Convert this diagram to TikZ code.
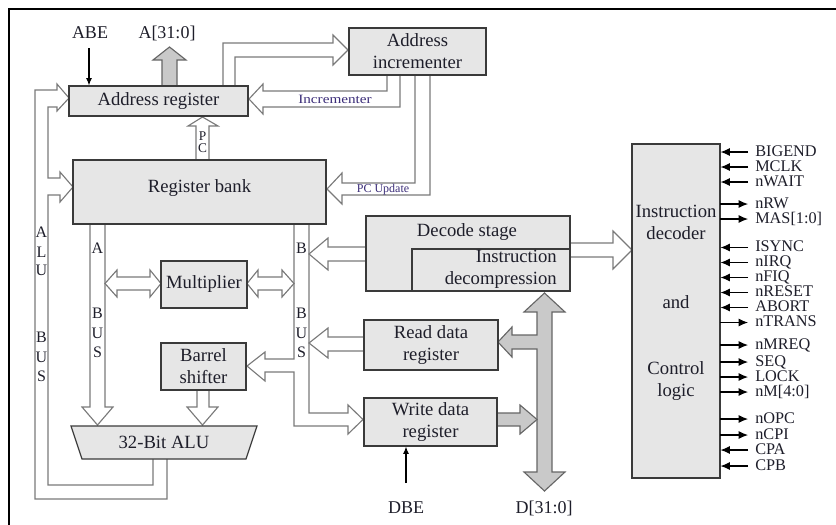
\documentclass[tikz,border=0pt]{standalone}
\usepackage{fontspec}
\setmainfont{Liberation Serif}
\newfontfamily\WideFam[FakeStretch=1.2]{Liberation Serif}
\usetikzlibrary{arrows.meta}
\definecolor{boxfill}{HTML}{E6E6E6}
\definecolor{boxdraw}{HTML}{3A3A3A}
\definecolor{holc}{HTML}{7A7A7A}
\definecolor{busfill}{HTML}{C9C9C9}
\definecolor{busdraw}{HTML}{666666}
\definecolor{txt}{HTML}{1E1E2A}
\definecolor{smalltxt}{HTML}{3A2C78}
\newcommand\BoxFont{\fontsize{14}{16.5}\selectfont}
\newcommand\LblFont{\fontsize{13.5}{15}\selectfont}
\newcommand\SigFont{\fontsize{12.2}{13}\selectfont}
\newcommand\BusFont{\fontsize{12}{13}\selectfont}
\newcommand\TinyFont{\WideFam\fontsize{9.5}{11}\selectfont}
\begin{document}
\begin{tikzpicture}[x=0.75pt,y=-0.75pt,
  box/.style={draw=boxdraw, fill=boxfill, line width=0.9pt, inner sep=0pt, align=center, font=\BoxFont, text=txt},
  holo/.style={draw=holc, line width=0.85pt, line join=miter},
  hol/.style={draw=holc, fill=white, line width=0.85pt, line join=miter},
  gbus/.style={draw=busdraw, fill=busfill, line width=0.85pt, line join=miter},
  lbl/.style={font=\LblFont, text=txt, inner sep=0pt},
  busl/.style={font=\BusFont, text=txt, inner sep=0pt},
  tiny/.style={font=\TinyFont, text=smalltxt, inner sep=0pt},
  sig/.style={font=\SigFont, text=txt, anchor=base west, inner sep=0pt, text height=8.1pt, text depth=0.3pt},
  sarrow/.style={line width=0.8pt, -{Latex[length=7pt,width=6pt]}},
  thin/.style={line width=0.8pt, -{Latex[length=5.5pt,width=4.5pt]}}
]
\useasboundingbox (0,0) rectangle (836,525);
% frame
\draw[line width=1.2pt] (9,525) -- (9,9) -- (836,9);

% ---------- hollow buses ----------
% Address register -> Address incrementer
\draw[holo] (223,86) -- (223,43) -- (333,43) -- (333,35) -- (348,50) -- (333,65) -- (333,57) -- (235,57) -- (235,86);
% Incrementer -> Address register
\draw[holo] (387,75) -- (387,91) -- (263,91) -- (263,84) -- (249,99) -- (263,114) -- (263,107) -- (400,107) -- (400,75);
% PC update
\draw[holo] (415,75) -- (415,183) -- (342,183) -- (342,173) -- (327,189) -- (342,204) -- (342,195) -- (430,195) -- (430,75);
% PC
\draw[holo] (196,160) -- (196,126) -- (188,126) -- (202.5,117) -- (218,126) -- (209,126) -- (209,160);
% ALU bus
\draw[holo] (167,459) -- (167,499) -- (35,499) -- (35,90) -- (57,90) -- (57,84) -- (69,98) -- (57,111) -- (57,107) -- (48,107) -- (48,178) -- (60,178) -- (60,172) -- (73,187) -- (60,202) -- (60,195) -- (48,195) -- (48,485) -- (153,485) -- (153,459);
% A bus
\draw[holo] (90,224) -- (90,407) -- (82,407) -- (97.5,425) -- (113,407) -- (105,407) -- (105,224);
% B bus
\draw[holo] (294,224) -- (294,359) -- (265,359) -- (265,352) -- (247,366) -- (265,381) -- (265,372) -- (294,372) -- (294,426) -- (348,426) -- (348,434) -- (363,419.5) -- (348,405) -- (348,413) -- (309,413) -- (309,224);
% Barrel shifter -> ALU
\draw[holo] (197,390) -- (197,407) -- (187,407) -- (202.5,425) -- (218,407) -- (209,407) -- (209,390);
% Multiplier double arrows
\draw[hol] (105,283.5) -- (117,270) -- (117,277) -- (150,277) -- (150,270) -- (161,283.5) -- (150,297) -- (150,290) -- (117,290) -- (117,297) -- cycle;
\draw[hol] (247,283.5) -- (258,270) -- (258,277) -- (282,277) -- (282,270) -- (294,283.5) -- (282,297) -- (282,290) -- (258,290) -- (258,297) -- cycle;
% Decode -> B bus
\draw[holo] (366,247) -- (328,247) -- (328,238) -- (309,254) -- (328,270) -- (328,261) -- (366,261);
% Read data -> B bus
\draw[holo] (364,337) -- (328,337) -- (328,328) -- (309,343) -- (328,358) -- (328,351) -- (364,351);
% Decode -> Instruction decoder
\draw[holo] (570,243) -- (613,243) -- (613,231) -- (632,250) -- (613,269) -- (613,257) -- (570,257);

% ---------- grey buses ----------
\draw[gbus] (162,86) -- (162,60) -- (153,60) -- (169.5,47) -- (186,60) -- (177,60) -- (177,86);
\draw[gbus] (544.5,293) -- (565,312) -- (552,312) -- (552,472) -- (565,472) -- (544.5,491) -- (524,472) -- (537,472) -- (537,349) -- (512,349) -- (512,357) -- (498,342) -- (512,327) -- (512,335) -- (537,335) -- (537,312) -- (524,312) -- cycle;
\draw[gbus] (497,413) -- (520,413) -- (520,405) -- (537,419.5) -- (520,434) -- (520,426) -- (497,426);

% ---------- boxes ----------
\node[box, minimum width={179*0.75pt}, minimum height={30*0.75pt}] (ar) at (158.5,101) {Address register};
\node[box, minimum width={137*0.75pt}, minimum height={47*0.75pt}] (ai) at (417.5,51.5) {Address\\incrementer};
\node[box, minimum width={253*0.75pt}, minimum height={64*0.75pt}, text height=14pt, text depth=14pt] (rb) at (199.5,192) {Register bank};
\node[box, minimum width={86*0.75pt}, minimum height={47*0.75pt}] (mul) at (204,284.5) {Multiplier};
\node[box, minimum width={85*0.75pt}, minimum height={47*0.75pt}] (bs) at (203.5,366.5) {Barrel\\shifter};
\draw[draw=boxdraw, fill=boxfill, line width=0.9pt] (71,426) -- (257,426) -- (246,459) -- (82,459) -- cycle;
\node[lbl, font=\BoxFont] (alu) at (164,442.5) {32-Bit ALU};
\node[box, minimum width={204*0.75pt}, minimum height={75*0.75pt}] (dec) at (468,253.5) {};
\node[lbl, font=\BoxFont] (dect) at (467,232) {Decode stage};
\node[box, minimum width={158*0.75pt}, minimum height={42*0.75pt}] (idc) at (491,270) {};
\node[lbl, font=\BoxFont, align=right, anchor=east] (idct) at (557,269) {Instruction\\decompression};
\node[box, minimum width={134*0.75pt}, minimum height={50*0.75pt}] (rd) at (431,345) {Read data\\register};
\node[box, minimum width={133*0.75pt}, minimum height={48*0.75pt}] (wd) at (430.5,422) {Write data\\register};
\node[box, minimum width={88*0.75pt}, minimum height={334*0.75pt}] (id) at (676,311) {};
\node[lbl, font=\BoxFont, align=center] (idt1) at (676,222) {Instruction\\decoder};
\node[lbl, font=\BoxFont] (idt2) at (676,302) {and};
\node[lbl, font=\BoxFont, align=center] (idt3) at (676,381) {Control\\logic};

% ---------- labels ----------
\node[lbl] (abe) at (90,33) {ABE};
\draw[thin] (89,48) -- (ar.north -| 89,0);
\node[lbl] (aout) at (167,33) {A[31:0]};
\node[lbl] (dbe) at (406,508) {DBE};
\node[lbl] (dout) at (544,508) {D[31:0]};
\coordinate (dbes) at (406,483);
\draw[thin] (dbes) -- (wd.south -| dbes);
\node[tiny] (incl) at (335,99.5) {Incrementer};
\node[tiny, font=\fontsize{9}{10}\selectfont] (pcu) at (383,190) {PC Update};
\node[tiny, font=\fontsize{10}{11}\selectfont, text=txt] (pcp) at (202.5,136) {P};
\node[tiny, font=\fontsize{10}{11}\selectfont, text=txt] (pcc) at (202.5,148) {C};

% bus letters
\foreach \ch/\yy [count=\i] in {A/232,L/252,U/270,B/337,U/357,S/376}
  \node[busl] (alub\i) at (41.5,\yy) {\ch};
\foreach \ch/\yy [count=\i] in {A/248,B/313,U/333,S/352}
  \node[busl] (abus\i) at (97.5,\yy) {\ch};
\foreach \ch/\yy [count=\i] in {B/248,B/313,U/333,S/352}
  \node[busl] (bbus\i) at (301.5,\yy) {\ch};

% ---------- control signals ----------
\foreach \yy/\t in {152/BIGEND,167/MCLK,182/nWAIT,247.5/ISYNC,262.5/nIRQ,277.5/nFIQ,292.5/nRESET,307.5/ABORT,450/CPA,466/CPB}{
  \node[sig] (s\yy) at (755,{\yy+4}) {\t};
  \draw[sarrow] (748,\yy) -- (720.5,\yy);
}
\foreach \yy/\t in {204/nRW,219/{MAS[1:0]},322.5/nTRANS,345/nMREQ,362/SEQ,377/LOCK,392/{nM[4:0]},419/nOPC,435/nCPI}{
  \node[sig] (s\yy) at (755,{\yy+4}) {\t};
  \draw[sarrow] (720,\yy) -- (748,\yy);
}
\end{tikzpicture}
\end{document}
